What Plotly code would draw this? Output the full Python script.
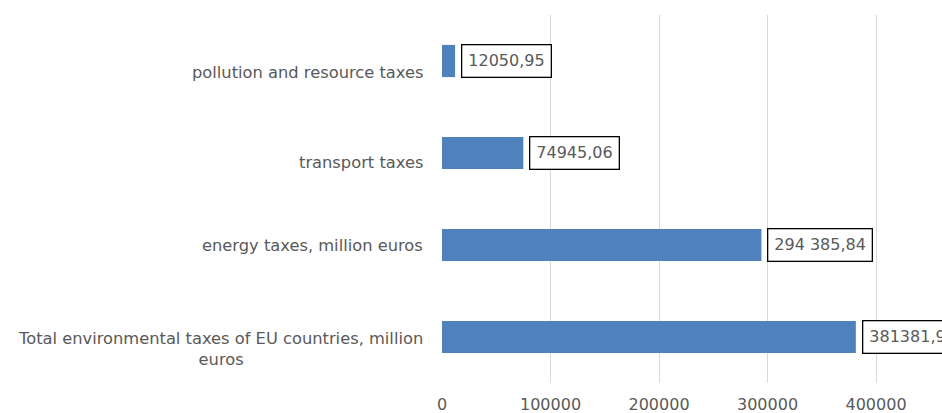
import plotly.graph_objects as go

# Environmental tax categories, bottom to top
categories = [
    "Total environmental taxes of EU countries, million<br>euros",
    "energy taxes, million euros",
    "transport taxes",
    "pollution and resource taxes",
]
values = [381381.9, 294385.84, 74945.06, 12050.95]
value_labels = ["381381,9", "294 385,84", "74945,06", "12050,95"]
x_ticks = [0, 100000, 200000, 300000, 400000]

# vertical nudges (px) of the category names
name_shift = [-12, 0, -9, -11]

TEXT = "#595959"
FONT = "DejaVu Sans"

fig = go.Figure(
    go.Bar(
        y=list(range(len(categories))),
        x=values,
        orientation="h",
        marker=dict(color="#4F81BD", line=dict(width=0)),
        hoverinfo="skip",
    )
)

annotations = []
# category names, centred text blocks to the left of the plot
for i, name in enumerate(categories):
    annotations.append(dict(
        xref="paper", yref="y", x=0, y=i, xanchor="right", yanchor="middle",
        xshift=-17, yshift=name_shift[i],
        text=name, showarrow=False, align="center",
        font=dict(family=FONT, size=16.3, color=TEXT),
    ))
# boxed value labels at the end of each bar
for i, (v, lab) in enumerate(zip(values, value_labels)):
    annotations.append(dict(
        xref="x", yref="y", x=v, y=i, xanchor="left", yanchor="middle",
        xshift=6, text=lab, showarrow=False,
        bordercolor="#000000", borderwidth=1.3, borderpad=6, bgcolor="#FFFFFF",
        font=dict(family=FONT, size=16, color=TEXT),
    ))

fig.update_layout(
    width=942, height=413,
    margin=dict(l=442, r=0, t=15, b=30),
    paper_bgcolor="#FFFFFF", plot_bgcolor="#FFFFFF",
    bargap=0.65, showlegend=False,
    annotations=annotations,
    xaxis=dict(
        range=[0, 460800], tickvals=x_ticks,
        ticktext=[str(t) for t in x_ticks],
        showgrid=True, gridcolor="#D9D9D9", gridwidth=1,
        zeroline=False, showline=False, ticks="",
        ticklabelstandoff=10,
        tickfont=dict(family=FONT, size=16, color=TEXT),
    ),
    yaxis=dict(
        range=[-0.5, 3.5], showticklabels=False, showgrid=False,
        zeroline=False, showline=False, ticks="",
    ),
)

fig.write_html("out.html")
